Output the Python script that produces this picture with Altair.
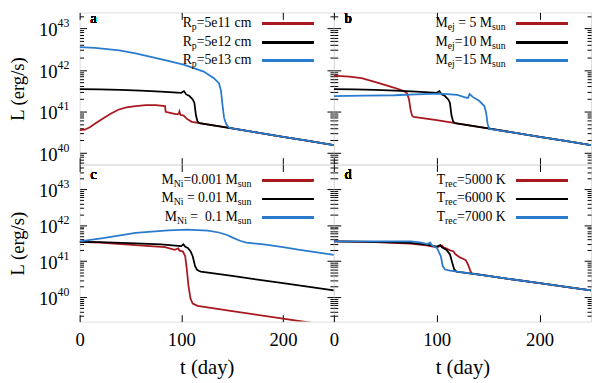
import altair as alt
import pandas as pd

SERIF = "Liberation Serif, Times New Roman, DejaVu Serif, serif"
RED = "#a8181f"
BLACK = "#000000"
BLUE = "#2a7bcc"
COLORS = [RED, BLACK, BLUE]

# ---------------- data: t (day) and log10 L (erg/s) -------------
a_red_t = [0, 5, 10, 16, 23, 30, 38, 46, 55, 65, 75, 84, 84.6, 90, 95.8, 97.5, 98.1, 99, 102.3, 105.5, 110.3, 115.1, 118, 150, 175, 200, 225, 250]
a_red_l = [40.55, 40.56, 40.62, 40.72, 40.83, 40.94, 41.04, 41.10, 41.13, 41.15, 41.15, 41.13, 40.99, 40.96, 40.93, 40.95, 41.00, 40.92, 40.90, 40.82, 40.75, 40.73, 40.72, 40.59, 40.49, 40.39, 40.29, 40.19]
a_black_t = [0, 20, 40, 60, 80, 100, 102.6, 104.8, 108, 111.2, 112.8, 114.4, 115.9, 117.6, 150, 175, 200, 225, 250]
a_black_l = [41.54, 41.53, 41.52, 41.50, 41.48, 41.45, 41.49, 41.41, 41.37, 41.29, 41.21, 40.90, 40.76, 40.72, 40.59, 40.49, 40.39, 40.29, 40.19]
a_blue_t = [0, 15, 39, 55, 71, 87, 103, 122, 132, 137, 139, 140.5, 142, 144, 146.5, 150, 175, 200, 225, 250]
a_blue_l = [42.55, 42.53, 42.47, 42.40, 42.31, 42.22, 42.12, 41.96, 41.80, 41.68, 41.50, 41.15, 40.85, 40.70, 40.62, 40.59, 40.49, 40.39, 40.29, 40.19]

b_red_t = [0, 15, 27, 43, 59, 68, 71, 73, 74.5, 76, 77.5, 100, 118, 150, 175, 200, 225, 250]
b_red_l = [41.86, 41.84, 41.80, 41.69, 41.57, 41.49, 41.44, 41.30, 41.05, 40.90, 40.87, 40.79, 40.72, 40.59, 40.49, 40.39, 40.29, 40.19]
b_black_t = a_black_t
b_black_l = a_black_l
b_blue_t = [0, 30, 59, 80, 103, 120, 129, 130.5, 132, 135, 141.5, 146.3, 148, 149.5, 151, 175, 200, 225, 250]
b_blue_l = [41.37, 41.38, 41.39, 41.41, 41.43, 41.40, 41.33, 41.33, 41.42, 41.35, 41.25, 41.13, 40.97, 40.70, 40.58, 40.49, 40.39, 40.29, 40.19]

c_red_t = [0, 20, 55, 84, 93.6, 97, 98, 101.6, 103.8, 105.4, 107, 109, 111.2, 116, 150, 200, 222, 250]
c_red_l = [41.54, 41.52, 41.45, 41.39, 41.32, 41.36, 41.30, 41.27, 41.14, 40.77, 40.32, 39.96, 39.82, 39.76, 39.61, 39.40, 39.31, 39.20]
c_black_t = [0, 20, 55, 80, 97, 100, 102, 104, 106.4, 109, 111.2, 113.5, 115.5, 117.6, 119.2, 150, 200, 250]
c_black_l = [41.54, 41.53, 41.50, 41.47, 41.43, 41.42, 41.47, 41.40, 41.37, 41.28, 41.14, 40.86, 40.76, 40.73, 40.71, 40.59, 40.39, 40.19]
c_blue_t = [0, 23, 55, 87, 106, 126, 137, 145, 151, 157.7, 164, 183, 200, 215, 230, 250]
c_blue_l = [41.55, 41.64, 41.79, 41.86, 41.88, 41.85, 41.80, 41.73, 41.65, 41.57, 41.52, 41.46, 41.39, 41.32, 41.26, 41.18]

d_red_t = [0, 40, 74.7, 90, 100.2, 103, 105, 107, 109.7, 113, 116.1, 118, 120.9, 123, 125.6, 128.2, 130.4, 132.7, 134, 150, 175, 200, 225, 250]
d_red_l = [41.55, 41.53, 41.49, 41.44, 41.39, 41.42, 41.44, 41.38, 41.35, 41.30, 41.28, 41.20, 41.14, 41.10, 41.07, 41.03, 40.91, 40.73, 40.66, 40.59, 40.49, 40.39, 40.29, 40.19]
d_black_t = [0, 40, 74.7, 90, 100.2, 103.4, 105, 109.7, 112.9, 115.1, 117, 119.2, 150, 200, 250]
d_black_l = [41.55, 41.54, 41.51, 41.46, 41.41, 41.45, 41.39, 41.31, 41.19, 40.96, 40.77, 40.71, 40.59, 40.39, 40.19]
d_blue_t = [0, 40, 74.7, 85, 90.6, 93.8, 95, 100.2, 104, 105.9, 108.1, 112.9, 150, 200, 250]
d_blue_l = [41.55, 41.55, 41.55, 41.52, 41.48, 41.52, 41.45, 41.37, 41.14, 40.86, 40.77, 40.74, 40.59, 40.39, 40.19]

# legend labels: (text, is_subscript) pieces
leg_a = [[("R", 0), ("p", 1), ("=5e11 cm", 0)],
         [("R", 0), ("p", 1), ("=5e12 cm", 0)],
         [("R", 0), ("p", 1), ("=5e13 cm", 0)]]
leg_b = [[("M", 0), ("ej", 1), (" = 5 M", 0), ("sun", 1)],
         [("M", 0), ("ej", 1), ("=10 M", 0), ("sun", 1)],
         [("M", 0), ("ej", 1), ("=15 M", 0), ("sun", 1)]]
leg_c = [[("M", 0), ("Ni", 1), ("=0.001 M", 0), ("sun", 1)],
         [("M", 0), ("Ni", 1), (" = 0.01 M", 0), ("sun", 1)],
         [("M", 0), ("Ni", 1), (" =  0.1 M", 0), ("sun", 1)]]
leg_d = [[("T", 0), ("rec", 1), ("=5000 K", 0)],
         [("T", 0), ("rec", 1), ("=6000 K", 0)],
         [("T", 0), ("rec", 1), ("=7000 K", 0)]]

x_ticks = [0, 100, 200]
y_major = [1e40, 1e41, 1e42, 1e43]
y_minor = [k * 10.0 ** n for n in range(39, 44) for k in range(2, 10)]

# ---------------- helpers ----------------
TIMES_W = {' ': 250, '=': 564, '.': 250, 'R': 667, 'M': 889, 'T': 611, 'K': 722, 'N': 722,
           'c': 444, 'm': 778, 'e': 444, 'j': 278, 'p': 500, 's': 389, 'u': 500, 'n': 500,
           'i': 278, 'r': 333}
MAIN, SUB = 14, 10


def tw(s, size):
    return sum(TIMES_W.get(ch, 500) for ch in s) * size / 1000.0


def legend_df(entries, right_x, line_ys):
    rows = []
    for segs, ly in zip(entries, line_ys):
        total = sum(tw(t, SUB if s else MAIN) for t, s in segs)
        x = right_x - total
        for txt, sub in segs:
            size = SUB if sub else MAIN
            cur = x
            for i, word in enumerate(txt.split(' ')):
                if i > 0:
                    cur += tw(' ', size)
                if word:
                    rows.append(dict(text=word, px=cur, py=ly + (6.5 if sub else 3.5), fs=size))
                cur += tw(word, size)
            x += tw(txt, size)
    return pd.DataFrame(rows)


def panel(curves, legend, letter, width, height, ydom, left, bottom):
    xs = alt.Scale(domain=[0, 250], nice=False, zero=False)
    ys = alt.Scale(type="log", domain=[10 ** ydom[0], 10 ** ydom[1]], nice=False)
    dfs = [pd.DataFrame({"t": t, "L": [10 ** v for v in l]}) for t, l in curves]
    base_axis = dict(domain=False, grid=False, tickColor="black", labelColor="black",
                     labelFont=SERIF, titleFont=SERIF, titleFontWeight="normal", titleColor="black",
                     labelOverlap=False)
    layers = []
    ax_bottom = alt.Axis(orient="bottom", values=x_ticks, offset=-7, tickSize=7, labels=bottom,
                         labelFontSize=19, labelPadding=9, labelFlush=False,
                         title="t (day)" if bottom else None, titleFontSize=21, titlePadding=8, **base_axis)
    ax_left = alt.Axis(orient="left", values=y_major, offset=-7, tickSize=7, labels=left,
                       labelExpr="'10'", labelFontSize=19, labelPadding=23, labelOffset=1.5,
                       title="L (erg/s)" if left else None, titleFontSize=19, titlePadding=11, **base_axis)
    layers.append(alt.Chart(dfs[0]).mark_line(opacity=0).encode(
        x=alt.X("t:Q", scale=xs, axis=ax_bottom), y=alt.Y("L:Q", scale=ys, axis=ax_left)))
    ax_top = alt.Axis(orient="top", values=x_ticks, offset=-7, tickSize=7, labels=False, title=None, **base_axis)
    ax_right = alt.Axis(orient="right", values=y_major, offset=-7, tickSize=7, labels=False, title=None, **base_axis)
    layers.append(alt.Chart(dfs[0]).mark_line(opacity=0).encode(
        x=alt.X("t:Q", scale=xs, axis=ax_top), y=alt.Y("L:Q", scale=ys, axis=ax_right)))
    for orient in ["left", "right"]:
        ax_m = alt.Axis(orient=orient, values=y_minor, offset=-4, tickSize=4, labels=False, title=None, **base_axis)
        layers.append(alt.Chart(dfs[0]).mark_line(opacity=0).encode(
            x=alt.X("t:Q", scale=xs, axis=None), y=alt.Y("L:Q", scale=ys, axis=ax_m)))
    if left:
        ax_e = alt.Axis(orient="left", values=y_major, ticks=False, labels=True, labelAlign="left",
                        labelExpr="format(round(log(datum.value)/LN10), 'd')", labelFontSize=12,
                        labelPadding=23, labelOffset=-5.5, title=None, **base_axis)
        layers.append(alt.Chart(dfs[0]).mark_line(opacity=0).encode(
            x=alt.X("t:Q", scale=xs, axis=None), y=alt.Y("L:Q", scale=ys, axis=ax_e)))
    for df, col in zip(dfs, COLORS):
        layers.append(alt.Chart(df).mark_line(color=col, strokeWidth=1.8, clip=True).encode(
            x=alt.X("t:Q", scale=xs, axis=None), y=alt.Y("L:Q", scale=ys, axis=None)))
    line_ys = [11.3, 30.3, 49.3] if not bottom else [16, 35, 54]
    ldf = legend_df(legend, 175, line_ys)
    layers.append(alt.Chart(ldf).mark_text(align="left", baseline="alphabetic", font=SERIF, color="black",
                                           fontWeight="normal").encode(
        x=alt.X("px:Q", scale=None, axis=None), y=alt.Y("py:Q", scale=None, axis=None),
        size=alt.Size("fs:Q", scale=None, legend=None), text="text:N"))
    for ly, col in zip(line_ys, COLORS):
        layers.append(alt.Chart(dfs[0]).mark_rule(color=col, strokeWidth=2).encode(
            x=alt.value(186), x2=alt.value(238), y=alt.value(ly)))
    layers.append(alt.Chart(dfs[0]).mark_text(font=SERIF, fontSize=14, color="black", align="left",
                                              baseline="middle", fontWeight="normal").encode(
        x=alt.value(11), y=alt.value(7 if not bottom else 11), text=alt.value(letter)))
    return alt.layer(*layers).properties(width=width, height=height).resolve_axis(x="independent", y="independent")


TOP_DOM = (39.72, 43.385)
BOT_DOM = (39.32, 43.69)
pa = panel([(a_red_t, a_red_l), (a_black_t, a_black_l), (a_blue_t, a_blue_l)], leg_a, "a", 259, 155, TOP_DOM, True, False)
pb = panel([(b_red_t, b_red_l), (b_black_t, b_black_l), (b_blue_t, b_blue_l)], leg_b, "b", 262, 155, TOP_DOM, False, False)
pc = panel([(c_red_t, c_red_l), (c_black_t, c_black_l), (c_blue_t, c_blue_l)], leg_c, "c", 259, 160, BOT_DOM, True, True)
pd_ = panel([(d_red_t, d_red_l), (d_black_t, d_black_l), (d_blue_t, d_blue_l)], leg_d, "d", 262, 160, BOT_DOM, False, True)

chart = alt.concat(pa, pb, pc, pd_, columns=2, spacing=0, bounds="flush").properties(padding=0).configure_view(
    stroke="black", strokeWidth=1.5).configure(background="white")

chart.save("out.html", embed_options={"renderer": "svg", "actions": False})
